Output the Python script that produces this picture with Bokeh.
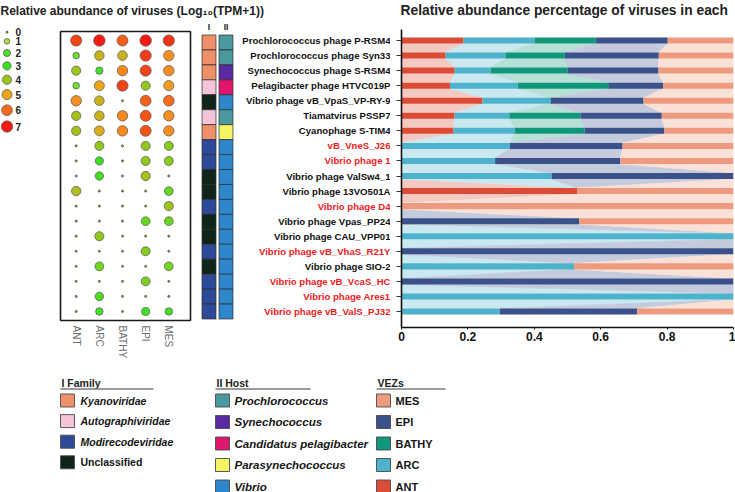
import math
import numpy as np
from bokeh.plotting import figure
from bokeh.layouts import row, column
from bokeh.models import ColumnDataSource, Range1d, FactorRange, FixedTicker
from bokeh.core.properties import value
from bokeh.embed import file_html
from bokeh.resources import INLINE

FONT = "Liberation Sans"

# ---------------------------------------------------------------- data
viruses = [
    "Prochlorococcus phage P-RSM4",
    "Prochlorococcus phage Syn33",
    "Synechococcus phage S-RSM4",
    "Pelagibacter phage HTVC019P",
    "Vibrio phage vB_VpaS_VP-RY-9",
    "Tiamatvirus PSSP7",
    "Cyanophage S-TIM4",
    "vB_VneS_J26",
    "Vibrio phage 1",
    "Vibrio phage ValSw4_1",
    "Vibrio phage 13VO501A",
    "Vibrio phage D4",
    "Vibrio phage Vpas_PP24",
    "Vibrio phage CAU_VPP01",
    "Vibrio phage vB_VhaS_R21Y",
    "Vibrio phage SIO-2",
    "Vibrio phage vB_VcaS_HC",
    "Vibrio phage Ares1",
    "Vibrio phage vB_ValS_PJ32",
]
highlight = [False, False, False, False, False, False, False, True, True, False,
             False, True, False, False, True, False, True, True, True]

families = ["Kyanoviridae", "Kyanoviridae", "Kyanoviridae", "Autographiviridae",
            "Unclassified", "Autographiviridae", "Kyanoviridae", "Modirecodeviridae",
            "Modirecodeviridae", "Unclassified", "Unclassified", "Modirecodeviridae",
            "Unclassified", "Unclassified", "Modirecodeviridae", "Unclassified",
            "Modirecodeviridae", "Modirecodeviridae", "Modirecodeviridae"]
hosts = ["Prochlorococcus", "Prochlorococcus", "Synechococcus", "Candidatus pelagibacter",
         "Vibrio", "Prochlorococcus", "Parasynechococcus"] + ["Vibrio"] * 12

zones = ["ANT", "ARC", "BATHY", "EPI", "MES"]

# log10(TPM+1) per zone
log_ant = [6.5, 1.6, 4.0, 1.6, 5.5, 4.1, 4.1, 0, 0, 0, 4.2, 0, 0, 0, 0, 0, 0, 0, 0]
log_arc = [7.0, 4.5, 2.2, 5.0, 4.5, 4.5, 4.8, 3.9, 3.0, 3.1, 0, 0, 0, 3.9, 0, 3.6, 0, 3.2, 2.3]
log_bathy = [6.2, 4.5, 5.6, 6.5, 0, 5.6, 5.6, 0, 0, 0, 0, 0, 0, 0, 0, 0, 0, 0, 0]
log_epi = [7.0, 6.6, 6.5, 3.9, 6.1, 6.3, 6.3, 3.9, 3.9, 4.1, 0, 0, 3.5, 0, 3.8, 0, 3.7, 0, 2.8]
log_mes = [6.7, 5.5, 5.5, 5.2, 6.0, 5.5, 5.5, 3.8, 3.8, 0, 3.5, 4.0, 3.5, 0, 0, 3.6, 0, 0, 2.3]

# relative abundance share per zone
share_ant = [0.187, 0.133, 0.160, 0.146, 0.244, 0.160, 0.157, 0, 0, 0, 0.530, 0, 0, 0, 0, 0, 0, 0, 0]
share_arc = [0.214, 0.180, 0.108, 0.204, 0.205, 0.165, 0.184, 0.326, 0.282, 0.452, 0, 0, 0, 1.0, 0, 0.520, 0, 1.0, 0.296]
share_bathy = [0.184, 0.179, 0.233, 0.275, 0, 0.214, 0.211, 0, 0, 0, 0, 0, 0, 0, 0, 0, 0, 0, 0]
share_epi = [0.217, 0.283, 0.273, 0.163, 0.280, 0.245, 0.240, 0.340, 0.377, 0.548, 0, 0, 0.535, 0, 1.0, 0, 1.0, 0, 0.414]
share_mes = [0.198, 0.225, 0.226, 0.212, 0.271, 0.216, 0.208, 0.334, 0.341, 0, 0.470, 1.0, 0.465, 0, 0, 0.480, 0, 0, 0.290]

family_names = ["Kyanoviridae", "Autographiviridae", "Modirecodeviridae", "Unclassified"]
host_names = ["Prochlorococcus", "Synechococcus", "Candidatus pelagibacter",
              "Parasynechococcus", "Vibrio"]
size_levels = [0, 1, 2, 3, 4, 5, 6, 7]
x_ticks = [0, 0.2, 0.4, 0.6, 0.8, 1]

# ---------------------------------------------------------------- styles
zone_colors = {"ANT": "#dc4b35", "ARC": "#4db3cc", "BATHY": "#10977b",
               "EPI": "#3b5189", "MES": "#ed9a7e"}
family_colors = {"Kyanoviridae": "#ee9068", "Autographiviridae": "#f4c4d8",
                 "Modirecodeviridae": "#2c4a98", "Unclassified": "#0f2519"}
host_colors = {"Prochlorococcus": "#4a999e", "Synechococcus": "#5a2aa2",
               "Candidatus pelagibacter": "#e0156c", "Parasynechococcus": "#f4f464",
               "Vibrio": "#2e86cb"}

color_stops = [(0, "#8a8a3a"), (1, "#a4e03c"), (2, "#48e02c"), (3, "#3ce020"),
               (3.5, "#66d820"), (4, "#9cc41a"), (4.5, "#c8b41a"), (5, "#eca61c"),
               (5.5, "#f88e20"), (6, "#f86a1c"), (6.5, "#f24416"), (7, "#f51a12")]


def hex_rgb(h):
    return [int(h[i:i + 2], 16) for i in (1, 3, 5)]


def level_color(v):
    for (a, ca), (b, cb) in zip(color_stops[:-1], color_stops[1:]):
        if a <= v <= b:
            t = (v - a) / (b - a)
            ra, rb = hex_rgb(ca), hex_rgb(cb)
            return "#%02x%02x%02x" % tuple(round(x + (y - x) * t) for x, y in zip(ra, rb))
    return color_stops[-1][1]


def level_size(v):
    return 2.2 + 3.5 * math.sqrt(v)


def lighten(h, a=0.3):
    return "#%02x%02x%02x" % tuple(round(a * c + (1 - a) * 255) for c in hex_rgb(h))


def make_fig(**kw):
    p = figure(title=None, toolbar_location=None, output_backend="svg",
               frame_align=False, **kw)
    p.xgrid.visible = False
    p.ygrid.visible = False
    p.outline_line_color = None
    p.background_fill_color = "white"
    p.border_fill_color = "white"
    return p


n = len(viruses)
rows = list(range(n))
TOP_H = 346
bubble_y = Range1d(18.6, -0.6)
bar_y = Range1d(19.06, -0.73)

# ---------------------------------------------------------------- titles
pt = make_fig(width=735, height=18, x_range=Range1d(0, 735), y_range=Range1d(18, 0),
              x_axis_location=None, y_axis_location=None, min_border=0)
pt.text(x=[0], y=[10], text=["Relative abundance of viruses (Log\u2081\u2080(TPM+1))"],
        text_font=value(FONT), text_font_style="bold", text_font_size="12px",
        text_baseline="middle", text_color="#222222")
pt.text(x=[400], y=[10], text=["Relative abundance percentage of viruses in each"],
        text_font=value(FONT), text_font_style="bold", text_font_size="13.8px",
        text_baseline="middle", text_color="#222222")

# ---------------------------------------------------------------- size legend
pz = make_fig(width=50, height=TOP_H, x_range=Range1d(0, 50), y_range=Range1d(TOP_H, 0),
              x_axis_location=None, y_axis_location=None, min_border=0)
leg_sizes = [level_size(v) for v in size_levels]
leg_y = [13.7]
for a, b in zip(leg_sizes[:-1], leg_sizes[1:]):
    leg_y.append(leg_y[-1] + (a + b) / 2 + 5.2)
pz.scatter(x=[6.5] * len(size_levels), y=leg_y, size=leg_sizes,
           fill_color=[level_color(v) for v in size_levels],
           line_color="#555555", line_width=0.7)
pz.text(x=[15] * len(size_levels), y=leg_y, text=[str(v) for v in size_levels],
        text_font=value(FONT), text_font_style="bold", text_font_size="10px",
        text_baseline="middle", text_color="#222222")

# ---------------------------------------------------------------- bubble panel
log_values = {"ANT": log_ant, "ARC": log_arc, "BATHY": log_bathy,
              "EPI": log_epi, "MES": log_mes}
bx, by, bc, bs = [], [], [], []
for j, z in enumerate(zones):
    for i in rows:
        v = log_values[z][i]
        bx.append(j)
        by.append(i)
        bc.append(level_color(v))
        bs.append(level_size(v))
bubble_src = ColumnDataSource(dict(x=bx, y=by, color=bc, size=bs))

pb = make_fig(width=146, height=TOP_H, x_range=Range1d(-0.678, 4.937), y_range=bubble_y,
              y_axis_location=None, min_border_left=10, min_border_right=6,
              min_border_top=13, min_border_bottom=44)
pb.outline_line_color = "#1a1a1a"
pb.outline_line_width = 1.6
pb.scatter("x", "y", size="size", fill_color="color", line_color="#555555",
           line_width=0.7, source=bubble_src)
xa = pb.xaxis[0]
xa.ticker = FixedTicker(ticks=list(range(len(zones))))
xa.major_label_overrides = {j: z for j, z in enumerate(zones)}
xa.major_label_orientation = -math.pi / 2
xa.axis_line_color = None
xa.major_tick_line_color = None
xa.major_tick_out = 0
xa.major_tick_in = 0
xa.minor_tick_line_color = None
xa.major_label_standoff = 5
xa.major_label_text_font = FONT
xa.major_label_text_font_size = "10px"
xa.major_label_text_color = "#6d6d6d"

# ---------------------------------------------------------------- family / host strips
strip_src = ColumnDataSource(dict(
    col=["I"] * n + ["II"] * n,
    row=rows + rows,
    color=[family_colors[f] for f in families] + [host_colors[h] for h in hosts],
))
ps = make_fig(width=40, height=TOP_H, x_range=FactorRange("I", "II"), y_range=bubble_y,
              x_axis_location="above", y_axis_location=None, min_border_left=4,
              min_border_right=2, min_border_top=13, min_border_bottom=44)
ps.rect(x="col", y="row", width=0.82, height=1, fill_color="color",
        line_color="#2b2b2b", line_width=0.7, source=strip_src)
sa = ps.xaxis[0]
sa.axis_line_color = None
sa.major_tick_line_color = None
sa.major_tick_out = 0
sa.major_tick_in = 0
sa.minor_tick_line_color = None
sa.major_label_standoff = 2
sa.major_label_text_font = FONT
sa.major_label_text_font_style = "bold"
sa.major_label_text_font_size = "8.5px"
sa.major_label_text_color = "#222222"

# ---------------------------------------------------------------- virus names
name_src = ColumnDataSource(dict(
    row=rows, name=viruses,
    color=["#ee1c1c" if h else "#111111" for h in highlight],
))
pl = make_fig(width=154, height=TOP_H, x_range=Range1d(0, 154), y_range=bar_y,
              x_axis_location=None, y_axis_location=None, min_border_left=0,
              min_border_right=0, min_border_top=11, min_border_bottom=37)
pl.text(x=154, y="row", text="name", text_color="color", text_align="right",
        text_baseline="middle", text_font=value(FONT), text_font_style="bold",
        text_font_size="9.6px", source=name_src)

# ---------------------------------------------------------------- stacked bars with links
shares = {"ANT": share_ant, "ARC": share_arc, "BATHY": share_bathy,
          "EPI": share_epi, "MES": share_mes}
bar_src = ColumnDataSource(dict(row=rows, **{z: shares[z] for z in zones}))

mat = np.array([shares[z] for z in zones]).T
right = np.cumsum(mat, axis=1)
left = right - mat
bar_h = 0.4
lx, ly, lc = [], [], []
for k, z in enumerate(zones):
    for i in range(n - 1):
        if mat[i, k] == 0 and mat[i + 1, k] == 0:
            continue
        lx.append([left[i, k], right[i, k], right[i + 1, k], left[i + 1, k]])
        ly.append([i + bar_h / 2, i + bar_h / 2, i + 1 - bar_h / 2, i + 1 - bar_h / 2])
        lc.append(lighten(zone_colors[z]))

pr = make_fig(width=345, height=TOP_H, x_range=Range1d(0, 1), y_range=bar_y,
              min_border_left=11, min_border_right=2, min_border_top=11,
              min_border_bottom=37)
pr.patches(xs=lx, ys=ly, fill_color=lc, line_color=lc, line_width=0.6)
pr.hbar_stack(zones, y="row", height=bar_h, fill_color=[zone_colors[z] for z in zones],
              line_color=None, source=bar_src)

xr = pr.xaxis[0]
xr.ticker = FixedTicker(ticks=x_ticks)
xr.major_label_overrides = {t: ("%g" % t) for t in x_ticks}
xr.axis_line_width = 1.6
xr.axis_line_color = "#111111"
xr.major_tick_out = 2
xr.major_tick_in = 0
xr.major_tick_line_color = "#111111"
xr.minor_tick_line_color = None
xr.major_label_standoff = 2
xr.major_label_text_font = FONT
xr.major_label_text_font_style = "bold"
xr.major_label_text_font_size = "12px"
xr.major_label_text_color = "#111111"

# row ticks only; the names are drawn in the panel to the left
yr = pr.yaxis[0]
yr.ticker = FixedTicker(ticks=rows)
yr.axis_line_width = 1.6
yr.axis_line_color = "#111111"
yr.major_tick_out = 5
yr.major_tick_in = 0
yr.major_tick_line_color = "#333333"
yr.minor_tick_line_color = None
yr.major_label_text_font_size = "1px"
yr.major_label_text_color = None
yr.major_label_standoff = 0

# ---------------------------------------------------------------- legends
pg = make_fig(width=735, height=128, x_range=Range1d(0, 735), y_range=Range1d(128, 0),
              x_axis_location=None, y_axis_location=None, min_border=0)


def legend_block(x0, header, names, colors, styles, size, step, text_dx, line_len):
    pg.text(x=[x0 + 1], y=[18.7], text=[header], text_font=value(FONT),
            text_font_style="bold", text_font_size="10.5px", text_baseline="middle",
            text_color="#222222")
    pg.segment(x0=[x0], y0=[24.5], x1=[x0 + line_len], y1=[24.5],
               line_color="#7a7a7a", line_width=1.3)
    ys = [36 + step * k for k in range(len(names))]
    pg.rect(x=[x0 + 7] * len(names), y=ys, width=14, height=13,
            fill_color=colors, line_color="#4a4a4a", line_width=0.9)
    src = ColumnDataSource(dict(x=[x0 + text_dx] * len(names), y=ys, t=names, st=styles))
    pg.text(x="x", y="y", text="t", text_font_style="st", text_font=value(FONT),
            text_font_size=size, text_baseline="middle", text_color="#151515", source=src)


legend_block(60, "I Family", family_names, [family_colors[f] for f in family_names],
             ["bold italic", "bold italic", "bold italic", "bold"], "10.5px", 20.6, 20, 93)
legend_block(215, "II Host", host_names, [host_colors[h] for h in host_names],
             ["bold italic"] * len(host_names), "11.5px", 21.5, 19, 95)
vez_order = zones[::-1]
legend_block(376, "VEZs", vez_order, [zone_colors[z] for z in vez_order],
             ["bold"] * len(vez_order), "11px", 21.5, 19, 69)

# ---------------------------------------------------------------- layout
top = row(pz, pb, ps, pl, pr, spacing=0)
layout = column(pt, top, pg, spacing=0)

with open("out.html", "w") as f:
    f.write(file_html(layout, INLINE, title="Virus abundance"))
